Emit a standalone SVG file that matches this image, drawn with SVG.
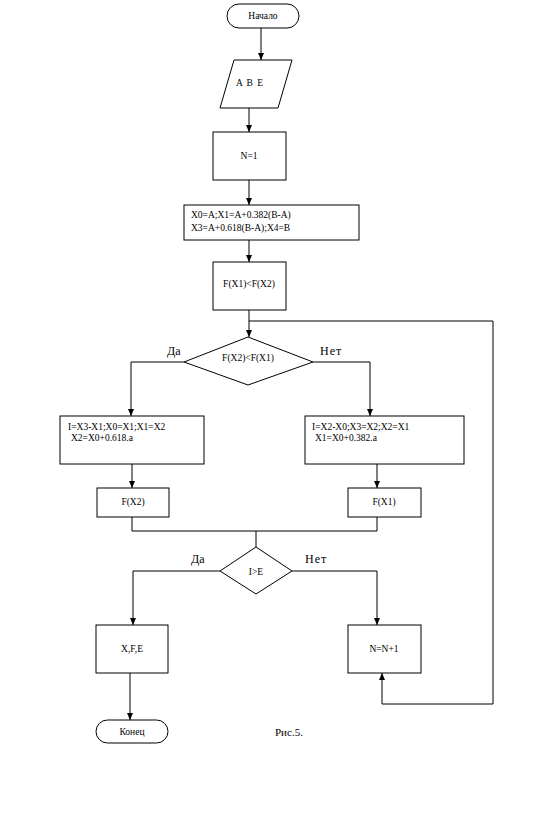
<svg xmlns="http://www.w3.org/2000/svg" width="534" height="836" viewBox="0 0 534 836" font-family="'Liberation Serif', 'Times New Roman', 'DejaVu Serif', serif">
<style>
.s{fill:#fff;stroke:#000;stroke-width:1}
.c{fill:none;stroke:#000;stroke-width:1}
text{font-family:"Liberation Serif","Times New Roman","DejaVu Serif",serif;fill:#000;font-size:9.5px}
.m{text-anchor:middle}
.l{font-size:12px}
</style>
<defs>
<marker id="a" markerUnits="userSpaceOnUse" markerWidth="8" markerHeight="8" refX="7" refY="4" orient="auto">
<path d="M0,1 L7,4 L0,7 Z" fill="#000"/>
</marker>
</defs>
<rect width="534" height="836" fill="#fff"/>
<g id="connectors">
<path class="c" d="M261,28 V60" marker-end="url(#a)"/>
<path class="c" d="M249,108 V132" marker-end="url(#a)"/>
<path class="c" d="M249,180 V205" marker-end="url(#a)"/>
<path class="c" d="M249,240 V262" marker-end="url(#a)"/>
<path class="c" d="M249,310 V337" marker-end="url(#a)"/>
<path class="c" d="M184,362 H131 V416" marker-end="url(#a)"/>
<path class="c" d="M313,362 H370 V416" marker-end="url(#a)"/>
<path class="c" d="M132,464 V488" marker-end="url(#a)"/>
<path class="c" d="M377,464 V488" marker-end="url(#a)"/>
<path class="c" d="M132,517 V531 H377 V517 M256,531 V547"/>
<path class="c" d="M220,571 H133 V625" marker-end="url(#a)"/>
<path class="c" d="M292,571 H377 V625" marker-end="url(#a)"/>
<path class="c" d="M130,673 V720" marker-end="url(#a)"/>
<path class="c" d="M249,321 H493 V704 H382 V673" marker-end="url(#a)"/>
</g>
<g id="start"><rect class="s" x="227" y="4" width="72" height="24" rx="12"/><text class="m" x="263" y="19">Начало</text></g>
<g id="input"><path class="s" d="M234,60 H292 L278,108 H220 Z"/><text class="m" x="250" y="86" style="letter-spacing:1px">A B E</text></g>
<g id="n1"><rect class="s" x="213" y="132" width="73" height="48"/><text class="m" x="249" y="159">N=1</text></g>
<g id="init"><rect class="s" x="184" y="205" width="175" height="35"/><text x="191" y="218">X0=A;X1=A+0.382(B-A)</text><text x="191" y="231">X3=A+0.618(B-A);X4=B</text></g>
<g id="cmp1"><rect class="s" x="213" y="262" width="73" height="48"/><text class="m" x="249" y="287">F(X1)&lt;F(X2)</text></g>
<g id="dec1"><path class="s" d="M248,337 L313,362 L248,385 L184,362 Z"/><text class="m" x="248" y="361">F(X2)&lt;F(X1)</text></g>
<text class="l" x="167" y="355">Да</text>
<text class="l" x="320" y="355" style="letter-spacing:1px">Нет</text>
<g id="left"><rect class="s" x="60" y="416" width="144" height="48"/><text x="68" y="430">I=X3-X1;X0=X1;X1=X2</text><text x="71" y="441"> X2=X0+0.618.a</text></g>
<g id="right"><rect class="s" x="305" y="416" width="159" height="48"/><text x="312" y="430">I=X2-X0;X3=X2;X2=X1</text><text x="315" y="441"> X1=X0+0.382.a</text></g>
<g id="fx2"><rect class="s" x="97" y="488" width="72" height="29"/><text class="m" x="133" y="505">F(X2)</text></g>
<g id="fx1"><rect class="s" x="348" y="488" width="73" height="29"/><text class="m" x="384" y="505">F(X1)</text></g>
<g id="dec2"><path class="s" d="M256,547 L292,571 L256,594 L220,571 Z"/><text class="m" x="256" y="575">I&gt;E</text></g>
<text class="l" x="191" y="563">Да</text>
<text class="l" x="305" y="563" style="letter-spacing:1px">Нет</text>
<g id="out"><rect class="s" x="96" y="625" width="72" height="48"/><text class="m" x="132" y="652">X,F,E</text></g>
<g id="inc"><rect class="s" x="348" y="625" width="73" height="48"/><text class="m" x="384" y="652">N=N+1</text></g>
<g id="end"><rect class="s" x="96" y="720" width="72" height="23" rx="11.5"/><text class="m" x="132" y="735">Конец</text></g>
<text x="275" y="736" style="font-size:11px">Рис.5.</text>
</svg>
